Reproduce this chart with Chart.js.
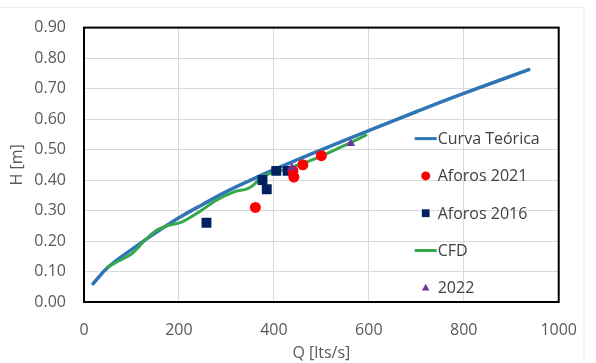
<!DOCTYPE html>
<html>
<head>
<meta charset="utf-8">
<script src="https://cdn.jsdelivr.net/npm/chart.js@4/dist/chart.umd.min.js"></script>
<style>
html,body{margin:0;padding:0;background:#fff;}
#wrap{position:relative;width:596px;height:363px;}
</style>
</head>
<body>
<div id="wrap"><canvas id="c" width="596" height="363"></canvas></div>
<script>
// ---- Data ----
const curvaQ = [19, 50, 100, 150, 200, 250, 300, 350, 400, 450, 500, 600, 700, 800, 937];
const curvaH = [0.06, 0.113, 0.172, 0.226, 0.276, 0.320, 0.362, 0.399, 0.434, 0.467, 0.499, 0.562, 0.624, 0.684, 0.762];

const cfdQ = [50, 75, 102, 125, 150, 175, 204, 245, 278, 318, 345, 358, 373, 414, 482, 540, 594];
const cfdH = [0.115, 0.136, 0.160, 0.197, 0.232, 0.250, 0.261, 0.298, 0.333, 0.362, 0.372, 0.385, 0.409, 0.430, 0.467, 0.507, 0.547];

const aforos2021Q = [361, 440, 442, 461, 500];
const aforos2021H = [0.31, 0.43, 0.41, 0.45, 0.48];

const aforos2016Q = [258, 376, 385, 405, 429];
const aforos2016H = [0.26, 0.40, 0.37, 0.43, 0.43];

const y2022Q = [438, 562];
const y2022H = [0.44, 0.52];

const xTicks = [0, 200, 400, 600, 800, 1000];
const yTicks = [0, 0.1, 0.2, 0.3, 0.4, 0.5, 0.6, 0.7, 0.8, 0.9];

const seriesNames = ['Curva Teórica', 'Aforos 2021', 'Aforos 2016', 'CFD', '2022'];

function pts(qs, hs){ return qs.map((q,i)=>({x:q, y:hs[i]})); }

const FONT = "'Open Sans', 'Noto Sans', sans-serif";
const GREY = '#595959';

const borderPlugin = {
  id: 'plotBorder',
  beforeDatasetsDraw(chart){
    const {ctx, chartArea:a} = chart;
    ctx.save();
    ctx.strokeStyle = '#000';
    ctx.lineWidth = 2;
    ctx.strokeRect(a.left, a.top, a.right - a.left, a.bottom - a.top);
    ctx.restore();
  },
  beforeDraw(chart){
    const {ctx} = chart;
    ctx.save();
    ctx.strokeStyle = '#ececec';
    ctx.lineWidth = 1;
    ctx.strokeRect(-2, 7.5, 586, 400);
    ctx.restore();
  }
};

const legendPlugin = {
  id: 'inLegend',
  afterDraw(chart){
    const {ctx, chartArea:a} = chart;
    const x0 = a.right - 144;   // symbol left
    const sx = a.right - 133;   // symbol centre
    const tx = a.right - 121;   // text start
    const y = a.top + 111;
    const step = 37.3;
    ctx.save();
    ctx.font = "16px " + FONT;
    ctx.textBaseline = 'middle';
    ctx.textAlign = 'left';
    chart.data.datasets.forEach((ds, i) => {
      const yy = y + step * i;
      if (ds.showLine) {
        ctx.strokeStyle = ds.borderColor;
        ctx.lineWidth = 3;
        ctx.beginPath();
        ctx.moveTo(x0, yy);
        ctx.lineTo(tx - 1, yy);
        ctx.stroke();
      } else {
        const style = ds.pointStyle;
        const r = style === 'rect' ? 5.5 : (style === 'triangle' ? 4 : 4.5);
        ctx.fillStyle = ds.backgroundColor;
        ctx.beginPath();
        if (style === 'circle') { ctx.arc(sx, yy, r, 0, Math.PI*2); }
        else if (style === 'rect') { const s = r*Math.SQRT1_2; ctx.rect(sx-s, yy-s, 2*s, 2*s); }
        else { ctx.moveTo(sx, yy - r); ctx.lineTo(sx + r*0.95, yy + r*0.7); ctx.lineTo(sx - r*0.95, yy + r*0.7); ctx.closePath(); }
        ctx.fill();
      }
      ctx.fillStyle = '#404040';
      ctx.fillText(ds.label, tx, yy + 1);
    });
    ctx.restore();
  }
};

new Chart(document.getElementById('c'), {
  type: 'scatter',
  data: {
    datasets: [
      { label: seriesNames[0], data: pts(curvaQ, curvaH), showLine: true, borderColor: '#2E75B6', backgroundColor: '#2E75B6',
        borderWidth: 3.5, pointRadius: 0, tension: 0.4, borderCapStyle: 'round', order: 10 },
      { label: seriesNames[1], data: pts(aforos2021Q, aforos2021H), showLine: false, pointStyle: 'circle',
        backgroundColor: '#FF0000', borderColor: '#FF0000', pointRadius: 5.5, pointBorderWidth: 0, order: 1 },
      { label: seriesNames[2], data: pts(aforos2016Q, aforos2016H), showLine: false, pointStyle: 'rect',
        backgroundColor: '#002060', borderColor: '#002060', pointRadius: 7, pointBorderWidth: 0, order: 2 },
      { label: seriesNames[3], data: pts(cfdQ, cfdH), showLine: true, borderColor: '#36A84C', backgroundColor: '#36A84C',
        borderWidth: 3, pointRadius: 0, cubicInterpolationMode: 'monotone', borderCapStyle: 'round', order: 9 },
      { label: seriesNames[4], data: pts(y2022Q, y2022H), showLine: false, pointStyle: 'triangle',
        backgroundColor: '#7030A0', borderColor: '#7030A0', pointRadius: 5, pointBorderWidth: 0, order: 0 }
    ]
  },
  options: {
    responsive: false,
    animation: false,
    devicePixelRatio: 1,
    layout: { padding: { left: 0, right: 22, top: 19, bottom: 0 } },
    plugins: { legend: { display: false }, tooltip: { enabled: false } },
    scales: {
      x: {
        type: 'linear', min: 0, max: 1000,
        afterBuildTicks(s){ s.ticks = xTicks.map(v => ({value: v})); },
        afterFit(s){ s.height = 61; },
        grid: { color: '#d9d9d9', lineWidth: 1, drawTicks: false },
        border: { display: false },
        ticks: { color: GREY, font: { family: FONT, size: 16 }, padding: 19, maxRotation: 0, callback: v => String(v) },
        title: { display: true, text: 'Q [lts/s]', color: GREY, font: { family: FONT, size: 16 }, padding: { top: 0, bottom: 0 } }
      },
      y: {
        type: 'linear', min: 0, max: 0.9,
        afterBuildTicks(s){ s.ticks = yTicks.map(v => ({value: v})); },
        afterFit(s){ s.width = 84; },
        grid: { color: '#d9d9d9', lineWidth: 1, drawTicks: false },
        border: { display: false },
        ticks: { color: GREY, font: { family: FONT, size: 16 }, padding: 18, callback: v => Number(v).toFixed(2) },
        title: { display: true, text: 'H [m]', color: GREY, font: { family: FONT, size: 16 }, padding: { top: 8, bottom: 0 } }
      }
    }
  },
  plugins: [borderPlugin, legendPlugin]
});
</script>
</body>
</html>
